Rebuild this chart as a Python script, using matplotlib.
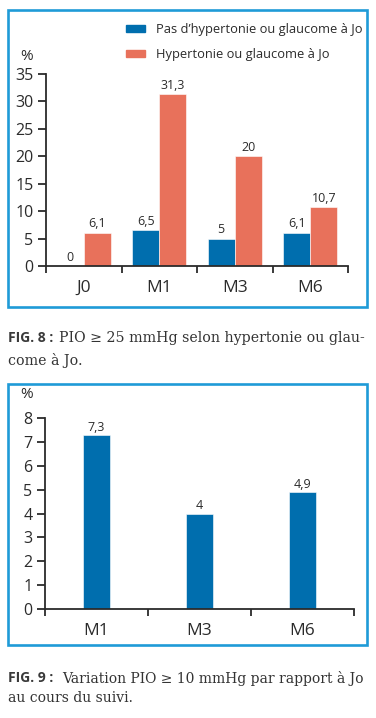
import matplotlib
matplotlib.use('Agg')
import matplotlib.pyplot as plt
import numpy as np
from matplotlib.patches import Rectangle, Patch

# data
cats8 = ['J0', 'M1', 'M3', 'M6']
no_glauc = [0, 6.5, 5, 6.1]
glauc = [6.1, 31.3, 20, 10.7]
labels8 = ['Pas d\u2019hypertonie ou glaucome \u00e0 Jo', 'Hypertonie ou glaucome \u00e0 Jo']
yticks8 = [0, 5, 10, 15, 20, 25, 30, 35]

cats9 = ['M1', 'M3', 'M6']
var10 = [7.3, 4, 4.9]
yticks9 = [0, 1, 2, 3, 4, 5, 6, 7, 8]

BLUE = '#006eae'
ORANGE = '#e8715b'
FRAME = '#1f9bd7'
INK = '#2b2b2b'
SANS = ['Open Sans', 'DejaVu Sans']
SERIF = ['DejaVu Serif']

W, H = 376, 718
fig = plt.figure(figsize=(W / 100, H / 100), dpi=100)


def px_axes(x0, x1, ytop, ybot):
    return fig.add_axes([x0 / W, 1 - ybot / H, (x1 - x0) / W, (ybot - ytop) / H])


def fmt(v):
    return ('%g' % v).replace('.', ',')


def style_axes(ax, cats, yticks):
    n = len(cats)
    ax.set_xlim(-0.5, n - 0.5)
    ax.set_ylim(0, yticks[-1])
    for s in ['top', 'right']:
        ax.spines[s].set_visible(False)
    for s in ['left', 'bottom']:
        ax.spines[s].set_color(INK)
        ax.spines[s].set_linewidth(1.3)
    ax.set_yticks(yticks)
    ax.set_yticklabels([str(t) for t in yticks], family=SANS, fontsize=11.5, color=INK)
    ax.tick_params(axis='y', direction='out', length=6, width=1.3, color=INK, pad=3)
    ax.set_xticks(np.arange(n))
    ax.set_xticklabels(cats, family=SANS, fontsize=12.5, color=INK)
    ax.set_xticks(np.arange(n + 1) - 0.5, minor=True)
    ax.tick_params(axis='x', which='major', length=0, pad=10)
    ax.tick_params(axis='x', which='minor', direction='out', length=5, width=1.3, color=INK)
    ax.patch.set_alpha(0)


# frames
fig.patches.append(Rectangle((8 / W, 1 - 307 / H), 359 / W, 297 / H, transform=fig.transFigure,
                             fill=False, edgecolor=FRAME, linewidth=1.9))
fig.patches.append(Rectangle((8 / W, 1 - 645 / H), 359 / W, 261 / H, transform=fig.transFigure,
                             fill=False, edgecolor=FRAME, linewidth=1.9))

# ---- Fig. 8
ax1 = px_axes(46, 348, 74, 266)
x = np.arange(len(cats8))
bw = 0.36
b1 = ax1.bar(x - bw / 2, no_glauc, bw, color=BLUE, edgecolor='white', linewidth=0.4)
b2 = ax1.bar(x + bw / 2, glauc, bw, color=ORANGE, edgecolor='white', linewidth=0.4)
for bars, vals in [(b1, no_glauc), (b2, glauc)]:
    for r, v in zip(bars, vals):
        ax1.text(r.get_x() + r.get_width() / 2, v + 0.4, fmt(v), ha='center', va='bottom',
                 family=SANS, fontsize=9, color=INK)
style_axes(ax1, cats8, yticks8)
fig.text(27 / W, 1 - 56 / H, '%', ha='center', va='center', family=SANS, fontsize=11, color=INK)
ax1.legend([Patch(color=BLUE), Patch(color=ORANGE)], labels8, loc='upper left',
           bbox_to_anchor=(126 / W, 1 - 23 / H), bbox_transform=fig.transFigure,
           frameon=False, prop={'family': SANS, 'size': 9.3}, handlelength=1.45,
           handleheight=0.5, handletextpad=0.85, labelspacing=0.95, borderpad=0,
           borderaxespad=0, labelcolor=INK)

fig.text(8 / W, 1 - 338 / H, 'FIG. 8 :', ha='left', va='center', family=SANS,
         fontsize=10, fontweight='bold', color='#3a3a3a')
fig.text(59 / W, 1 - 338 / H, 'PIO \u2265 25 mmHg selon hypertonie ou glau-', ha='left',
         va='center', family=SERIF, fontsize=10.2, color='#333333')
fig.text(8 / W, 1 - 360 / H, 'come \u00e0 Jo.', ha='left', va='center', family=SERIF,
         fontsize=10.2, color='#333333')

# ---- Fig. 9
ax2 = px_axes(45, 354, 418, 609)
x9 = np.arange(len(cats9))
b3 = ax2.bar(x9, var10, 0.26, color=BLUE, edgecolor='white', linewidth=0.4)
for r, v in zip(b3, var10):
    ax2.text(r.get_x() + r.get_width() / 2, v + 0.05, fmt(v), ha='center', va='bottom',
             family=SANS, fontsize=9, color=INK)
style_axes(ax2, cats9, yticks9)
fig.text(27 / W, 1 - 395 / H, '%', ha='center', va='center', family=SANS, fontsize=11, color=INK)

fig.text(8 / W, 1 - 678 / H, 'FIG. 9 :', ha='left', va='center', family=SANS,
         fontsize=10, fontweight='bold', color='#3a3a3a')
fig.text(62 / W, 1 - 678 / H, 'Variation PIO \u2265 10 mmHg par rapport \u00e0 Jo', ha='left',
         va='center', family=SERIF, fontsize=10, color='#333333')
fig.text(8 / W, 1 - 698 / H, 'au cours du suivi.', ha='left', va='center', family=SERIF,
         fontsize=10, color='#333333')

fig.savefig('out.png', dpi=100)
